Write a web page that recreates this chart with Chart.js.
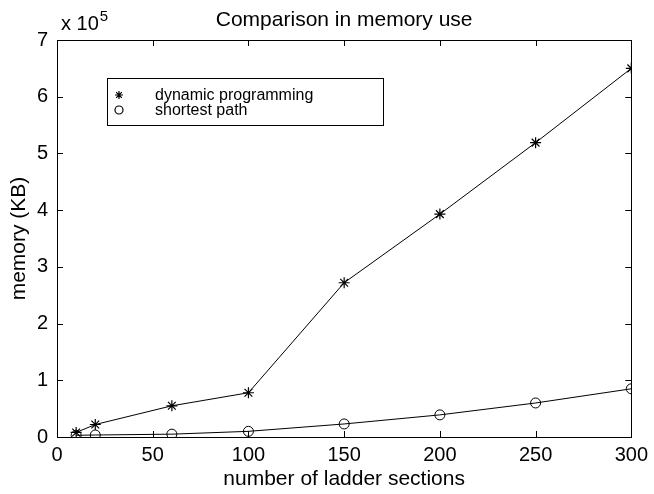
<!DOCTYPE html>
<html>
<head>
<meta charset="utf-8">
<script src="https://cdn.jsdelivr.net/npm/chart.js@4.4.0/dist/chart.umd.min.js"></script>
<style>
    html, body { margin: 0; padding: 0; background: #fff; }
    #wrap { width: 654px; height: 494px; }
</style>
</head>
<body>
<div id="wrap"><canvas id="memChart" width="654" height="494"></canvas></div>
<script>
var sections = [10, 20, 60, 100, 150, 200, 250, 300];
var dynamicProg = [8000, 22000, 55000, 78000, 272000, 393000, 519000, 650000];
var shortestPath = [3000, 3500, 5000, 10000, 23000, 39000, 60000, 85000];
var xTicks = [0, 50, 100, 150, 200, 250, 300];
var yTicks = [0, 1, 2, 3, 4, 5, 6, 7];

var FONT = '"Liberation Sans", Arial, Helvetica, sans-serif';

function pairs(xs, ys) {
    return xs.map(function(x, i) { return { x: x, y: ys[i] }; });
}

// box, inward ticks, title, axis labels, exponent and legend
var decorPlugin = {
    id: 'decor',
    afterDraw: function(chart) {
        var ctx = chart.ctx;
        var a = chart.chartArea;
        var xs = chart.scales.x, ys = chart.scales.y;
        ctx.save();
        ctx.strokeStyle = '#000';
        ctx.lineWidth = 1;
        ctx.strokeRect(Math.round(a.left) + 0.5, Math.round(a.top) + 0.5,
            Math.round(a.right - a.left), Math.round(a.bottom - a.top));

        ctx.beginPath();
        xTicks.forEach(function(v) {
            var px = Math.round(xs.getPixelForValue(v)) + 0.5;
            ctx.moveTo(px, a.bottom); ctx.lineTo(px, a.bottom - 6);
            ctx.moveTo(px, a.top); ctx.lineTo(px, a.top + 6);
        });
        yTicks.forEach(function(v) {
            var py = Math.round(ys.getPixelForValue(v * 1e5)) + 0.5;
            ctx.moveTo(a.left, py); ctx.lineTo(a.left + 6, py);
            ctx.moveTo(a.right, py); ctx.lineTo(a.right - 6, py);
        });
        ctx.stroke();

        ctx.fillStyle = '#000';
        ctx.textAlign = 'center';
        ctx.textBaseline = 'middle';
        ctx.font = '21px ' + FONT;
        ctx.fillText('Comparison in memory use', (a.left + a.right) / 2, 20);
        ctx.font = '21px ' + FONT;
        ctx.fillText('number of ladder sections', (a.left + a.right) / 2, 479);

        ctx.save();
        ctx.translate(19, (a.top + a.bottom) / 2);
        ctx.rotate(-Math.PI / 2);
        ctx.fillText('memory (KB)', 0, 0);
        ctx.restore();

        ctx.textAlign = 'left';
        ctx.textBaseline = 'alphabetic';
        ctx.font = '20px ' + FONT;
        ctx.fillText('x 10', 61, 30);
        var w = ctx.measureText('x 10').width;
        ctx.font = '15px ' + FONT;
        ctx.fillText('5', 61 + w + 1, 21);

        // legend
        ctx.fillStyle = '#fff';
        ctx.fillRect(107, 78, 276, 47);
        ctx.strokeRect(107.5, 78.5, 276, 47);
        ctx.font = '16px ' + FONT;
        ctx.textBaseline = 'middle';
        chart.data.datasets.forEach(function(ds, i) {
            var cy = 95 + i * 15;
            ctx.fillStyle = 'rgba(0,0,0,0)';
            ctx.strokeStyle = '#000';
            ctx.lineWidth = 1.2;
            Chart.helpers.drawPoint(ctx, {
                pointStyle: ds.pointStyle, radius: 4, rotation: 0, borderWidth: 1.2
            }, 119, cy);
            ctx.fillStyle = '#000';
            ctx.fillText(ds.label, 155, cy + 1);
        });
        ctx.restore();
    }
};

new Chart(document.getElementById('memChart'), {
    type: 'line',
    data: {
        datasets: [{
            label: 'dynamic programming',
            data: pairs(sections, dynamicProg),
            borderColor: '#000',
            borderWidth: 1,
            pointStyle: 'star',
            pointRadius: 5.5,
            pointBorderColor: '#000',
            pointBackgroundColor: 'transparent',
            pointBorderWidth: 1.2,
            tension: 0
        }, {
            label: 'shortest path',
            data: pairs(sections, shortestPath),
            borderColor: '#000',
            borderWidth: 1,
            pointStyle: 'circle',
            pointRadius: 5,
            pointBorderColor: '#000',
            pointBackgroundColor: 'transparent',
            pointBorderWidth: 1,
            tension: 0
        }]
    },
    options: {
        responsive: false,
        animation: false,
        layout: { padding: { top: 40, right: 16, left: 0, bottom: 0 } },
        plugins: {
            legend: { display: false },
            title: { display: false },
            tooltip: { enabled: false }
        },
        scales: {
            x: {
                type: 'linear',
                min: 0, max: 300,
                afterFit: function(s) { s.height = 57; },
                afterBuildTicks: function(s) { s.ticks = xTicks.map(function(v) { return { value: v }; }); },
                grid: { display: false, drawTicks: false },
                border: { display: false },
                ticks: { color: '#000', padding: 6, maxRotation: 0, font: { size: 20, family: FONT } }
            },
            y: {
                type: 'linear',
                min: 0, max: 700000,
                afterFit: function(s) { s.width = 57; },
                afterBuildTicks: function(s) { s.ticks = yTicks.map(function(v) { return { value: v * 1e5 }; }); },
                grid: { display: false, drawTicks: false },
                border: { display: false },
                ticks: {
                    color: '#000', padding: 9, font: { size: 20, family: FONT },
                    callback: function(v) { return v / 1e5; }
                }
            }
        }
    },
    plugins: [decorPlugin]
});
</script>
</body>
</html>
